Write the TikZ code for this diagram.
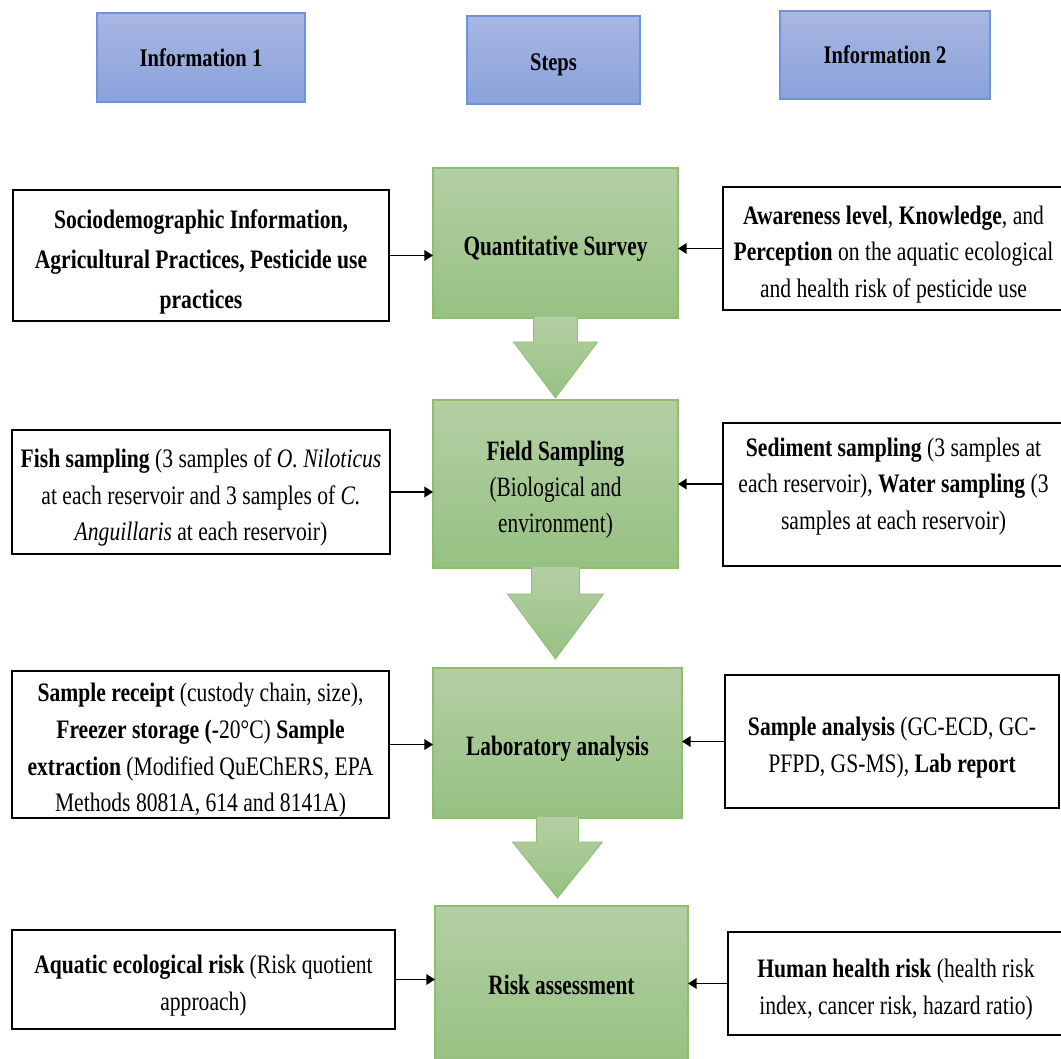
\documentclass[tikz,border=0pt]{standalone}
\usepackage{fontspec}
\setmainfont{Liberation Serif}[FakeStretch=0.81]
\newfontfamily\gfont{Liberation Serif}[FakeStretch=0.76]
\usetikzlibrary{arrows.meta,calc}
\definecolor{hdrtop}{RGB}{168,182,226}
\definecolor{hdrbot}{RGB}{138,162,218}
\definecolor{hdrline}{RGB}{112,146,214}
\definecolor{grtop}{RGB}{180,207,163}
\definecolor{grbot}{RGB}{150,193,130}
\definecolor{grline}{RGB}{140,190,110}
\tikzset{
  hdr/.style={draw=hdrline, line width=1pt, top color=hdrtop, bottom color=hdrbot, inner sep=0pt, outer sep=0pt, align=center, font=\fontsize{19}{23}\selectfont\bfseries},
  stepbox/.style={draw=grline, line width=1pt, top color=grtop, bottom color=grbot, inner sep=0pt, outer sep=0pt, align=center, font=\gfont\fontsize{21}{27}\selectfont},
  infobox/.style={draw=black, line width=1.2pt, fill=white, inner sep=0pt, outer sep=0pt, align=center, font=\fontsize{20}{27.5}\selectfont},
  conn/.style={line width=1.1pt, -{Triangle[length=6.5pt,width=8pt]}},
  bigarrow/.style={draw=grline, line width=0.6pt, top color=grtop, bottom color=grbot}
}
\newcommand\bx[7]{\node[#6, minimum width={(#4-#2)*0.75pt}, minimum height={(#5-#3)*0.75pt}] (#1) at ({(#2+#4)/2},{(#3+#5)/2}) {#7};}
\newcommand\tx[2]{\raisebox{#1}[\height][\depth]{\begin{tabular}{@{}c@{}}#2\end{tabular}}}
\newcommand\downarrowfrom[5]{%
  \path[bigarrow] ($(#1.south)+(-#2,-1)$) -- ($(#1.south)+(-#2,#3)$) -- ($(#1.south)+(-#4,#3)$) -- ($(#1.south)+(0,#5)$) -- ($(#1.south)+(#4,#3)$) -- ($(#1.south)+(#2,#3)$) -- ($(#1.south)+(#2,-1)$);}
\begin{document}
\begin{tikzpicture}[x=0.75pt,y=-0.75pt]
\useasboundingbox (0,0) rectangle (1061,1059);
% headers
\bx{h1}{97}{13}{305}{102}{hdr}{Information 1}
\bx{h2}{467}{16}{640}{104}{hdr}{\tx{-3pt}{Steps}}
\bx{h3}{780}{11}{990}{99}{hdr}{Information 2}
% step boxes
\bx{qs}{433}{168}{678}{318}{stepbox}{\tx{-3.75pt}{\bfseries Quantitative Survey}}
\bx{fs}{433}{400}{678}{568}{stepbox}{\tx{-3.75pt}{\textbf{Field Sampling}\\(Biological and\\environment)}}
\bx{la}{433}{668}{682}{818}{stepbox}{\tx{-3.75pt}{\bfseries Laboratory analysis}}
\bx{ra}{435}{906}{688}{1064}{stepbox}{\tx{-1.5pt}{\bfseries Risk assessment}}
% big arrows
\downarrowfrom{qs}{22}{24}{42}{80}
\downarrowfrom{fs}{24}{26}{48}{91}
\downarrowfrom{la}{21}{24}{45}{80}
% left info boxes
\bx{l1}{13}{190}{389}{321}{infobox,font=\fontsize{20}{30}\selectfont}{\tx{-3.75pt}{\textbf{Sociodemographic Information,}\\\textbf{Agricultural Practices, Pesticide use}\\\textbf{practices}}}
\bx{l2}{12}{430}{390}{554}{infobox}{\tx{-3.75pt}{\textbf{Fish sampling} (3 samples of \textit{O. Niloticus}\\at each reservoir and 3 samples of \textit{C.}\\\textit{Anguillaris} at each reservoir)}}
\bx{l3}{12}{673}{389}{816}{infobox}{\tx{-3.75pt}{\textbf{Sample receipt} (custody chain, size),\\\textbf{Freezer storage (-}20°C) \textbf{Sample}\\\textbf{extraction} (Modified QuEChERS, EPA\\Methods 8081A, 614 and 8141A)}}
\bx{l4}{12}{930}{395}{1029}{infobox}{\tx{-3.75pt}{\textbf{Aquatic ecological risk} (Risk quotient\\approach)}}
% right info boxes
\bx{r1}{723}{187}{1064}{310}{infobox}{\tx{-3.75pt}{\textbf{Awareness level}, \textbf{Knowledge}, and\\\textbf{Perception} on the aquatic ecological\\and health risk of pesticide use}}
\bx{r2}{723}{423}{1064}{566}{infobox}{\tx{6.75pt}{\textbf{Sediment sampling} (3 samples at\\each reservoir), \textbf{Water sampling} (3\\samples at each reservoir)}}
\bx{r3}{725}{675}{1059}{808}{infobox}{\tx{-3.75pt}{\textbf{Sample analysis} (GC-ECD, GC-\\PFPD, GS-MS), \textbf{Lab report}}}
\bx{r4}{728}{932}{1064}{1035}{infobox}{\tx{-3.75pt}{\textbf{Human health risk} (health risk\\index, cancer risk, hazard ratio)}}
% connectors
\draw[conn] (l1.east) -- (l1.east -| qs.west);
\draw[conn] (l2.east) -- (l2.east -| fs.west);
\draw[conn] (l3.east) -- (l3.east -| la.west);
\draw[conn] (l4.east) -- (l4.east -| ra.west);
\draw[conn] (r1.west) -- (r1.west -| qs.east);
\draw[conn] (fs.east -| r2.west) -- (fs.east);
\draw[conn] (r3.west) -- (r3.west -| la.east);
\draw[conn] (r4.west) -- (r4.west -| ra.east);
\end{tikzpicture}
\end{document}
